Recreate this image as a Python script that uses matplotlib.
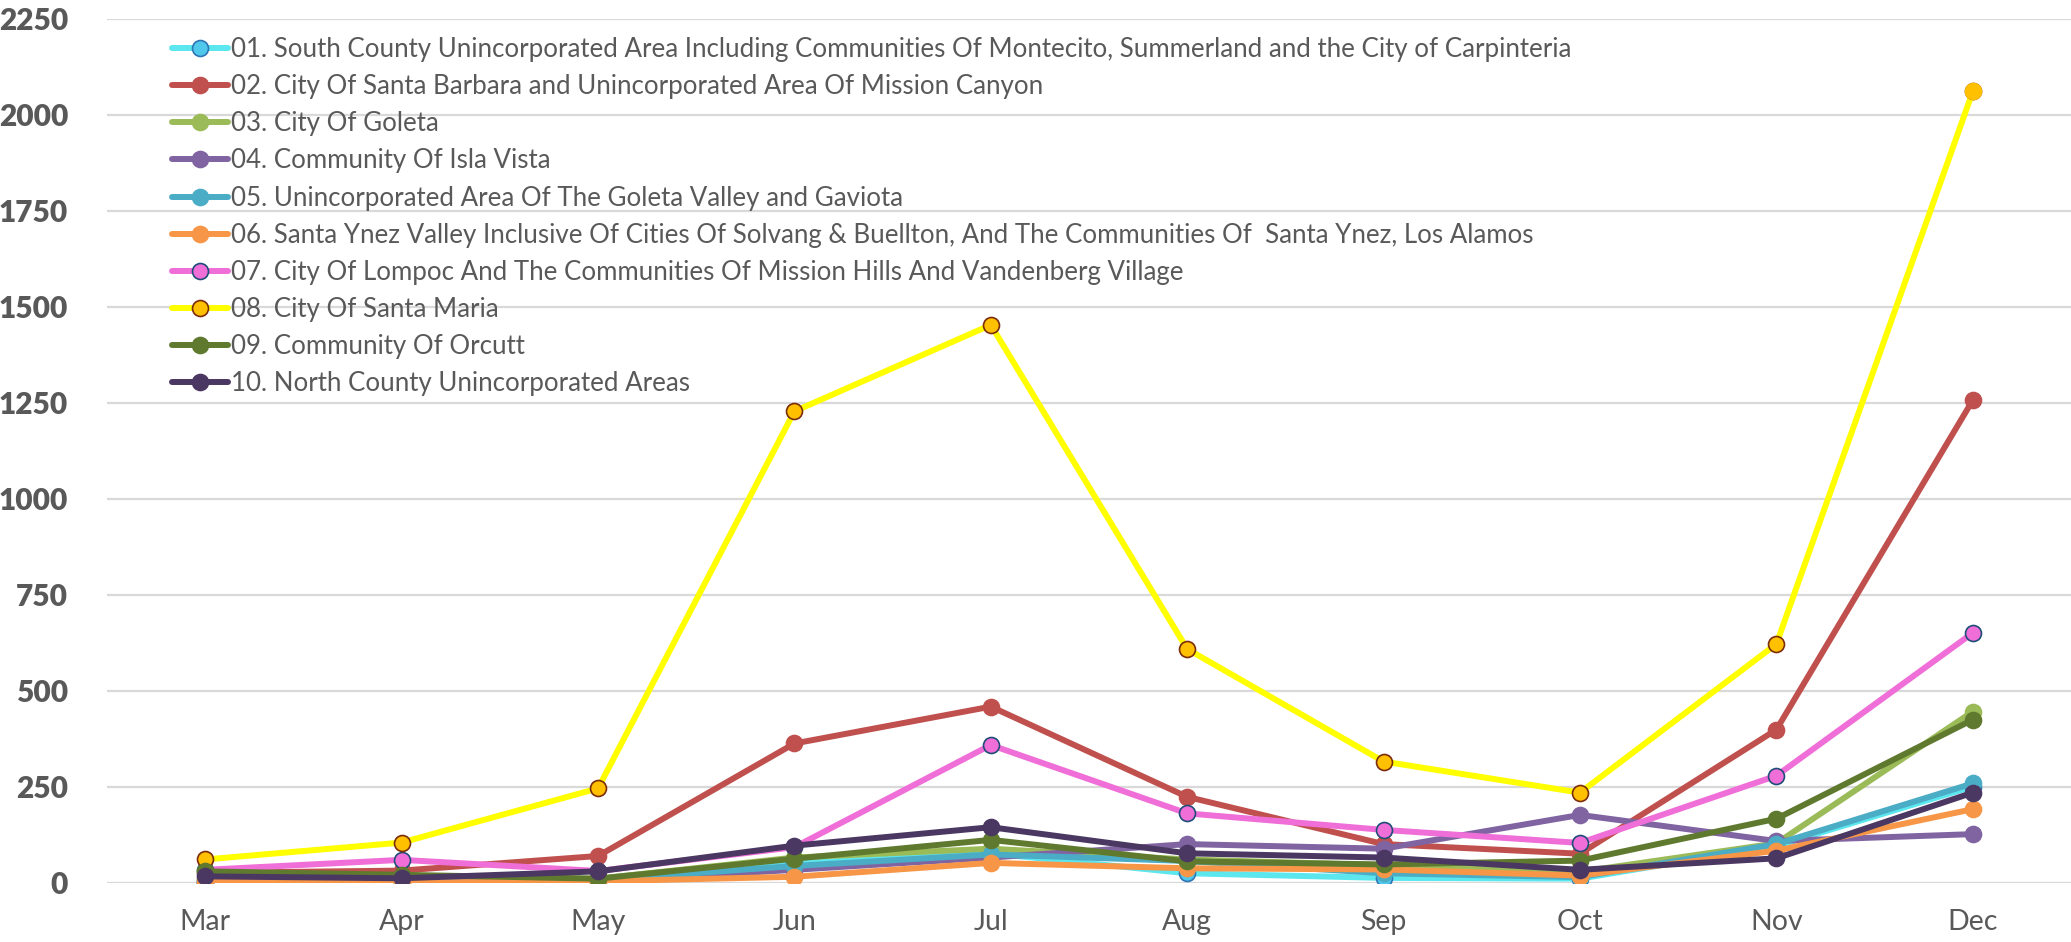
import matplotlib
matplotlib.use("Agg")
import matplotlib.pyplot as plt

months = ["Mar", "Apr", "May", "Jun", "Jul", "Aug", "Sep", "Oct", "Nov", "Dec"]

labels = [
    "01. South County Unincorporated Area Including Communities Of Montecito, Summerland and the City of Carpinteria",
    "02. City Of Santa Barbara and Unincorporated Area Of Mission Canyon",
    "03. City Of Goleta",
    "04. Community Of Isla Vista",
    "05. Unincorporated Area Of The Goleta Valley and Gaviota",
    "06. Santa Ynez Valley Inclusive Of Cities Of Solvang & Buellton, And The Communities Of  Santa Ynez, Los Alamos",
    "07. City Of Lompoc And The Communities Of Mission Hills And Vandenberg Village",
    "08. City Of Santa Maria",
    "09. Community Of Orcutt",
    "10. North County Unincorporated Areas",
]

s01 = [2, 3, 5, 50, 76, 24, 12, 10, 95, 250]
s02 = [25, 31, 69, 362, 458, 223, 100, 75, 398, 1256]
s03 = [10, 8, 10, 65, 88, 60, 45, 28, 102, 445]
s04 = [0, 2, 3, 33, 65, 100, 88, 176, 108, 126]
s05 = [5, 5, 6, 43, 73, 56, 24, 14, 100, 258]
s06 = [4, 0, 3, 15, 51, 37, 34, 18, 83, 191]
s07 = [33, 59, 30, 92, 358, 180, 137, 103, 278, 650]
s08 = [60, 104, 245, 1227, 1452, 608, 315, 234, 621, 2060]
s09 = [29, 20, 10, 62, 111, 55, 47, 57, 166, 424]
s10 = [16, 11, 29, 96, 144, 76, 65, 33, 63, 234]

series = [s01, s02, s03, s04, s05, s06, s07, s08, s09, s10]

line_colors = ["#5CE6EE", "#C0504D", "#9BBB59", "#8064A2", "#4BACC6",
               "#F79646", "#F06ED8", "#FFFF00", "#5F7A2F", "#4B3862"]
marker_faces = ["#4FC8EC", "#C0504D", "#9BBB59", "#8064A2", "#4BACC6",
                "#F79646", "#F06ED8", "#FFC000", "#5F7A2F", "#4B3862"]
marker_edges = ["#2E75B6", "#C0504D", "#9BBB59", "#8064A2", "#4BACC6",
                "#F79646", "#1F4E79", "#7B2C0A", "#5F7A2F", "#4B3862"]

W, H = 2071, 942
fig = plt.figure(figsize=(W / 100, H / 100), dpi=100)
ax = fig.add_axes([107 / W, 1 - 882.5 / H, 1 - 107 / W, (882.5 - 18.5) / H])

x = list(range(len(months)))
for i, (vals, lab) in enumerate(zip(series, labels)):
    ax.plot(x, vals, color=line_colors[i], lw=4.3, marker="o", ms=11.5,
            mfc=marker_faces[i], mec=marker_edges[i], mew=1.2, label=lab,
            solid_capstyle="round", zorder=3 + i)
    if i == 7:
        # last point of Santa Maria has no marker outline
        ax.plot(x[-1:], vals[-1:], ls="none", marker="o", ms=11.5,
                mfc=marker_faces[i], mec=marker_faces[i], mew=1.2, zorder=3 + i)

ax.set_xlim(-0.5, len(months) - 0.5)
ax.set_ylim(0, 2250)
ax.set_yticks(range(0, 2251, 250))
ax.set_xticks(x)
ax.set_xticklabels(months)
ax.grid(axis="y", color="#D9D9D9", lw=1.6)
ax.set_axisbelow(True)
for sp in ax.spines.values():
    sp.set_visible(False)
ax.tick_params(length=0)
ax.tick_params(axis="x", labelsize=20.5, labelcolor="#595959", pad=19)
ax.tick_params(axis="y", labelsize=21.5, labelcolor="#595959", pad=28)
for t in ax.get_xticklabels():
    t.set_fontfamily("Lato")
for t in ax.get_yticklabels():
    t.set_fontfamily("Lato")
    t.set_fontweight("heavy")

leg = ax.legend(loc="upper left", bbox_to_anchor=(172 / W, 1 - 37 / H),
                bbox_transform=fig.transFigure, frameon=False,
                prop={"family": "Lato", "size": 18.6},
                handlelength=2.17, handletextpad=0.1, labelspacing=0.47,
                borderpad=0, borderaxespad=0)
for t in leg.get_texts():
    t.set_color("#595959")

fig.savefig("out.png", dpi=100)
